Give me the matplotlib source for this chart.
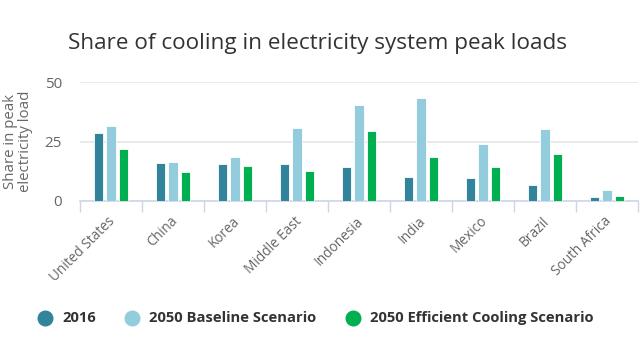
import matplotlib.pyplot as plt
from matplotlib.lines import Line2D
from matplotlib.transforms import ScaledTranslation
import numpy as np

plt.rcParams['font.family'] = ['Open Sans', 'DejaVu Sans']

countries = ["United States", "China", "Korea", "Middle East", "Indonesia",
             "India", "Mexico", "Brazil", "South Africa"]
share_2016 = [28.6, 15.9, 15.4, 15.4, 14.4, 10.1, 9.7, 6.9, 1.7]
share_baseline = [31.7, 16.5, 18.6, 30.7, 40.3, 43.4, 23.8, 30.1, 4.8]
share_efficient = [21.8, 12.3, 14.8, 12.7, 29.6, 18.6, 14.4, 19.7, 2.1]

series = [
    ("2016", share_2016, "#31849b"),
    ("2050 Baseline Scenario", share_baseline, "#93cddd"),
    ("2050 Efficient Cooling Scenario", share_efficient, "#00b050"),
]

W, H = 640, 344
fig = plt.figure(figsize=(W / 100, H / 100), dpi=100)
# axes box in pixel terms: x 80..638, y 82..201
ax = fig.add_axes([80 / W, (H - 201) / H, 558 / W, 119 / H])

x = np.arange(len(countries))
for i, (name, vals, col) in enumerate(series):
    ax.bar(x + (i - 1) * 0.2, vals, width=0.15, color=col,
           edgecolor="white", linewidth=0.6, zorder=3)

ax.set_xlim(-0.5, len(countries) - 0.5)
ax.set_ylim(0, 50)
ax.set_yticks([0, 25, 50])
ax.yaxis.grid(True, color="#e6e6e6", linewidth=1.2, zorder=0)
ax.tick_params(axis="y", length=0, labelsize=11, labelcolor="#666666", pad=13)

for side in ("top", "right", "left"):
    ax.spines[side].set_visible(False)
ax.spines["bottom"].set_color("#ccd6eb")
ax.spines["bottom"].set_linewidth(1.2)

# category boundaries as tick marks, names centred between them
ax.set_xticks(np.arange(len(countries) + 1) - 0.5, minor=True)
ax.tick_params(axis="x", which="minor", length=8, color="#ccd6eb", width=1)
ax.set_xticks(x)
ax.set_xticklabels(countries, rotation=45, ha="right",
                   rotation_mode="anchor", fontsize=9.8, color="#666666")
ax.tick_params(axis="x", which="major", length=0, pad=7)
shift = ScaledTranslation(-3 / 100, -3 / 100, fig.dpi_scale_trans)
for lbl in ax.get_xticklabels():
    lbl.set_transform(lbl.get_transform() + shift)

ax.set_ylabel("Share in peak\nelectricity load", fontsize=10.8,
              color="#666666", labelpad=8, linespacing=1.05)

fig.text(68 / W, 1 - 43 / H, "Share of cooling in electricity system peak loads",
         fontsize=16.2, color="#333333", va="center", ha="left")

# legend entries laid out in a single row below the axis
legend_y = 1 - 318 / H
for (name, _, col), mx in zip(series, (45, 132, 353)):
    fig.add_artist(Line2D([mx / W], [legend_y], transform=fig.transFigure,
                          marker="o", linestyle="", markersize=10.5,
                          markerfacecolor=col, markeredgecolor=col))
    fig.text((mx + 17) / W, legend_y, name, fontsize=10.6, weight="bold",
             color="#333333", va="center", ha="left")

fig.savefig("out.png", dpi=100)
